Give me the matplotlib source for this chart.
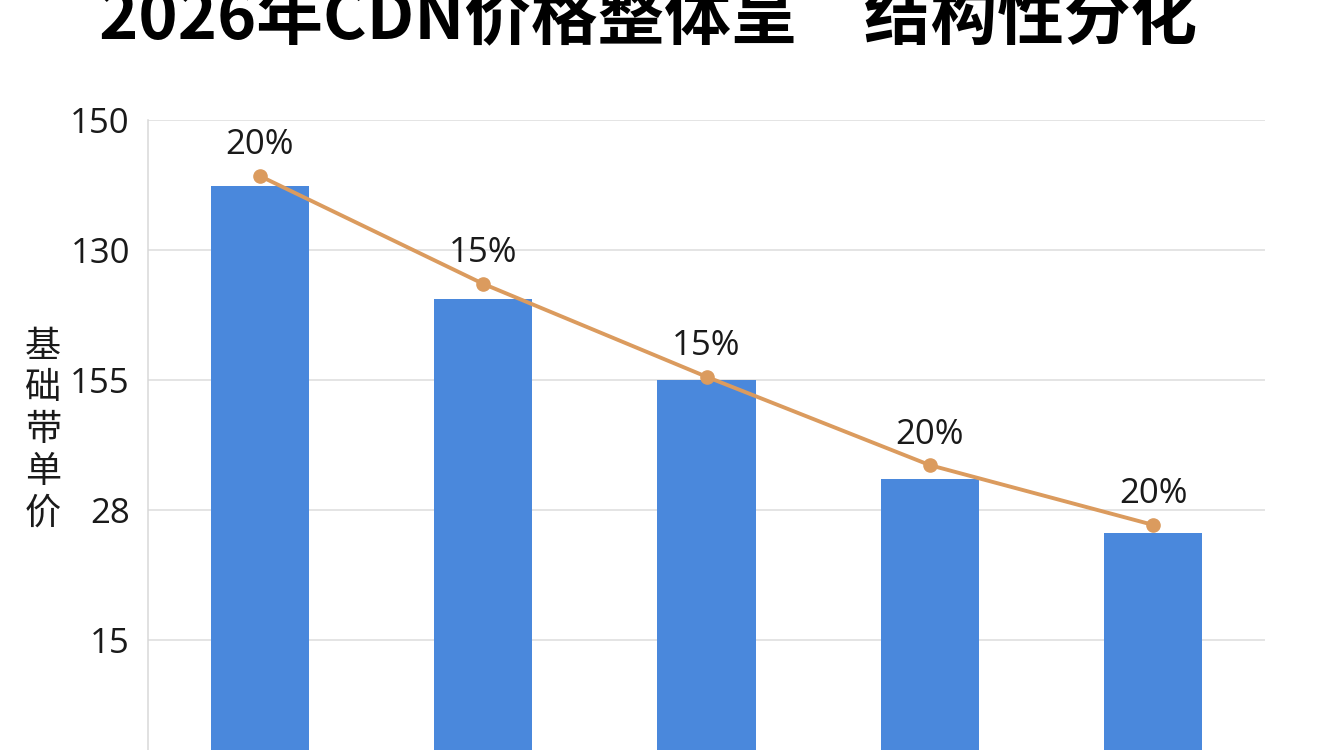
import matplotlib
matplotlib.use("Agg")
import matplotlib.pyplot as plt

# ---- data ----
categories = ["类别1", "类别2", "类别3", "类别4", "类别5"]
bar_values = [89.8, 72.5, 60.0, 44.8, 36.4]
line_values = [91.4, 74.8, 60.5, 46.9, 37.7]
pct_labels = ["20%", "15%", "15%", "20%", "20%"]
ytick_pos = [20, 40, 60, 80, 100]
ytick_labels = ["15", "28", "155", "130", "150"]
title = "2026年CDN价格整体呈\u3000结构性分化"
ylabel = "基础带单价"

plt.rcParams["font.family"] = ["Open Sans", "Noto Sans CJK SC", "DejaVu Sans"]

W, H = 1344, 750
fig = plt.figure(figsize=(W / 100, H / 100), dpi=100)
fig.patch.set_facecolor("white")

left, right, top, bottom = 148, 1265, 120, 770
ax = fig.add_axes([left / W, (H - bottom) / H, (right - left) / W, (bottom - top) / H])

ax.bar(categories, bar_values, width=0.44, color="#4A88DC", zorder=2)
ax.plot(categories, line_values, color="#DB9B5E", lw=2.8, marker="o", ms=9.5,
        markerfacecolor="#DB9B5E", markeredgecolor="#DB9B5E", zorder=3)
for xi, yi, lab in zip(categories, line_values, pct_labels):
    ax.annotate(lab, (xi, yi), xytext=(0, 22), textcoords="offset points",
                ha="center", va="center", fontsize=25, color="#1a1a1a")

ax.set_xlim(-0.5, 4.5)
ax.set_ylim(0, 100)
ax.set_yticks(ytick_pos)
ax.set_yticklabels(ytick_labels, fontsize=25, color="#1a1a1a")
ax.tick_params(axis="y", length=0, pad=13)
ax.tick_params(axis="x", length=0, labelbottom=False)
ax.grid(axis="y", color="#dcdcdc", lw=1.1, zorder=0)
ax.set_axisbelow(True)
for s in ["top", "right", "bottom"]:
    ax.spines[s].set_visible(False)
ax.spines["left"].set_color("#d8d8d8")
ax.spines["left"].set_linewidth(1.1)

fig.text(648 / W, 1 - 38 / H, title, ha="center", va="baseline",
         fontsize=48, fontweight="heavy", color="black",
         family=["Noto Sans CJK SC", "DejaVu Sans"])

fig.text(43 / W, 1 - 430 / H, "\n".join(ylabel), ha="center", va="center",
         fontsize=26, color="#1a1a1a", linespacing=1.2,
         family=["Noto Sans CJK SC", "DejaVu Sans"])

fig.savefig("out.png", dpi=100)
